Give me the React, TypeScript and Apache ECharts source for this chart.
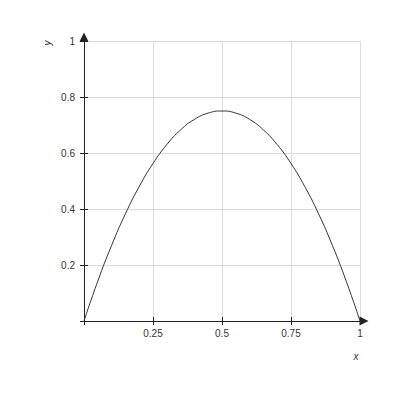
import React, { useEffect, useRef } from 'react'
import * as echarts from 'echarts'

// points
const xValues = [0, 0.05, 0.1, 0.15, 0.2, 0.25, 0.3, 0.35, 0.4, 0.45, 0.5, 0.55, 0.6, 0.65, 0.7, 0.75, 0.8, 0.85, 0.9, 0.95, 1]
const yValues = [0, 0.1425, 0.27, 0.3825, 0.48, 0.5625, 0.63, 0.6825, 0.72, 0.7425, 0.75, 0.7425, 0.72, 0.6825, 0.63, 0.5625, 0.48, 0.3825, 0.27, 0.1425, 0]
const xTickLabels = ['', '0.25', '0.5', '0.75', '1']
const yTickLabels = ['', '0.2', '0.4', '0.6', '0.8', '1']

const FONT = '"Liberation Sans", Arial, sans-serif'
const AXIS_COLOR = '#222'
const LABEL_COLOR = '#333'

const App: React.FC = () => {
    const chartRef = useRef<HTMLDivElement | null>(null)

    useEffect(() => {
        document.body.style.margin = '0'
        if (!chartRef.current) return
        const chart = echarts.init(chartRef.current, undefined, { renderer: 'svg' })

        const xLabel = (v: number) => xTickLabels[Math.round(v / 0.25)] ?? ''
        const yLabel = (v: number) => yTickLabels[Math.round(v / 0.2)] ?? ''

        const baseX = {
            type: 'value' as const,
            min: 0,
            max: 1,
            interval: 0.25,
            position: 'bottom' as const,
        }
        const baseY = {
            type: 'value' as const,
            min: 0,
            max: 1,
            interval: 0.2,
            position: 'left' as const,
        }

        chart.setOption({
            animation: false,
            grid: { left: 84, right: 40, top: 41, bottom: 79 },
            xAxis: [
                {
                    ...baseX,
                    axisLine: {
                        lineStyle: { color: AXIS_COLOR, width: 1 },
                        symbol: ['none', 'triangle'],
                        symbolSize: [9, 9],
                        symbolOffset: [0, 4],
                    },
                    axisTick: { show: true, length: 4, lineStyle: { color: AXIS_COLOR } },
                    axisLabel: {
                        formatter: xLabel,
                        color: LABEL_COLOR,
                        fontSize: 10,
                        fontFamily: FONT,
                        margin: 7,
                    },
                    splitLine: { show: true, lineStyle: { color: '#dcdcdc', width: 1 } },
                },
                {
                    ...baseX,
                    axisLine: { show: false },
                    axisTick: { show: true, inside: true, length: 4, lineStyle: { color: AXIS_COLOR } },
                    axisLabel: { show: false },
                    splitLine: { show: false },
                },
            ],
            yAxis: [
                {
                    ...baseY,
                    axisLine: {
                        lineStyle: { color: AXIS_COLOR, width: 1 },
                        symbol: ['none', 'triangle'],
                        symbolSize: [9, 9],
                        symbolOffset: [0, 4],
                    },
                    axisTick: { show: true, length: 4, lineStyle: { color: AXIS_COLOR } },
                    axisLabel: {
                        formatter: yLabel,
                        color: LABEL_COLOR,
                        fontSize: 10,
                        fontFamily: FONT,
                        margin: 9,
                    },
                    splitLine: { show: true, lineStyle: { color: '#dcdcdc', width: 1 } },
                },
                {
                    ...baseY,
                    axisLine: { show: false },
                    axisTick: { show: true, inside: true, length: 4, lineStyle: { color: AXIS_COLOR } },
                    axisLabel: { show: false },
                    splitLine: { show: false },
                },
            ],
            graphic: [
                {
                    type: 'text',
                    x: 47,
                    y: 43,
                    rotation: Math.PI / 2,
                    style: {
                        text: 'y',
                        fill: LABEL_COLOR,
                        font: `italic 10px ${FONT}`,
                        textAlign: 'center',
                        textVerticalAlign: 'middle',
                    },
                },
                {
                    type: 'text',
                    x: 356,
                    y: 356,
                    style: {
                        text: 'x',
                        fill: LABEL_COLOR,
                        font: `italic 10px ${FONT}`,
                        textAlign: 'center',
                        textVerticalAlign: 'middle',
                    },
                },
            ],
            series: [
                {
                    type: 'line',
                    data: xValues.map((x, i) => [x, yValues[i]]),
                    smooth: true,
                    showSymbol: false,
                    lineStyle: { color: '#333', width: 1 },
                },
            ],
        })

        return () => {
            chart.dispose()
        }
    }, [])

    return <div ref={chartRef} style={{ width: '400px', height: '400px' }} />
}

export default App
